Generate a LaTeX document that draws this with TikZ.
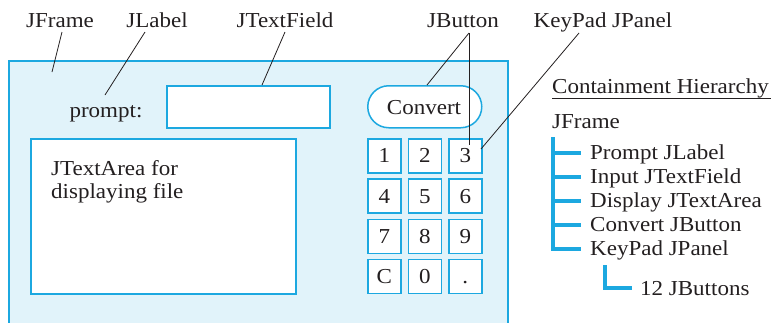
\documentclass[tikz,border=0pt]{standalone}
\usepackage{fontspec}
\setmainfont{Liberation Serif}[FakeStretch=1.08]
\usetikzlibrary{calc}
\definecolor{cyanline}{HTML}{1CA8E0}
\definecolor{framefill}{HTML}{E1F3FA}
\definecolor{txt}{HTML}{231F20}
\begin{document}
\begin{tikzpicture}[x=1pt,y=-1pt,
  every node/.style={inner sep=0pt,text=txt,font=\fontsize{21.3}{24}\selectfont},
  box/.style={draw=cyanline,line width=1.5pt,fill=white},
  key/.style={box,minimum width=33pt,minimum height=34pt},
  lead/.style={draw=txt,line width=0.8pt},
  tree/.style={draw=cyanline,line width=3.2pt}]
\useasboundingbox (0,0) rectangle (773,322);
% frame
\fill[framefill] (9,61) rectangle (508,324);
\draw[cyanline,line width=1.5pt] (9,324) -- (9,61) -- (508,61) -- (508,324);
\coordinate (frameIn) at (52,72);
% widgets
\node[anchor=base] (prompt) at (106,117) {prompt:};
\coordinate (promptTip) at (105,95);
\node[box,minimum width=163pt,minimum height=42pt,anchor=north west] (field) at (166,85) {};
\node[box,minimum width=265pt,minimum height=155pt,anchor=north west] (area) at (30,138) {};
\node[anchor=base west] (areaA) at (51,175) {JTextArea for};
\node[anchor=base west] (areaB) at (51,198) {displaying file};
\node[box,rounded corners=21pt,minimum width=114pt,minimum height=42pt,anchor=north west] (convert) at (367,85) {};
\node[anchor=base] (convertT) at (424,114) {Convert};
% keys
\foreach \lab/\c/\r [count=\i] in {1/0/0,2/1/0,3/2/0,4/0/1,5/1/1,6/2/1,7/0/2,8/1/2,9/2/2,C/0/3,0/1/3,./2/3}{
  \node[key,anchor=north west] (k\i) at (367+40.5*\c,138+40.3*\r) {};
  \node[anchor=base] (kt\i) at ($(k\i.center)+(0,7)$) {\lab};
}
% top labels
\node[anchor=base] (lFrame) at (60,27) {JFrame};
\node[anchor=base] (lLabel) at (157,27) {JLabel};
\node[anchor=base] (lField) at (285,27) {JTextField};
\node[anchor=base] (lButton) at (463,27) {JButton};
\node[anchor=base] (lPanel) at (603,27) {KeyPad JPanel};
\coordinate (cFrame) at (62,32);
\coordinate (cLabel) at (145,32);
\coordinate (cField) at (285,32);
\coordinate (cButton) at (469,33);
\coordinate (cPanel) at (579,33);
\coordinate (convTop) at (427,85);
\coordinate (key3in) at (469,145);
\coordinate (key3edge) at (481,149);
\coordinate (fieldTop) at (262,85);
\draw[lead] (cFrame) -- (frameIn);
\draw[lead] (cLabel) -- (promptTip);
\draw[lead] (cField) -- (fieldTop);
\draw[lead] (cButton) -- (convTop);
\draw[lead] (cButton) -- (key3in);
\draw[lead] (cPanel) -- (key3edge);
% hierarchy
\node[anchor=base west] (hTitle) at (552,93) {Containment Hierarchy};
\draw[txt,line width=0.9pt] (552,98.5) -- (771,98.5);
\node[anchor=base west] (hFrame) at (552,128) {JFrame};
\node[anchor=base west] (h1) at (590,159) {Prompt JLabel};
\node[anchor=base west] (h2) at (590,183) {Input JTextField};
\node[anchor=base west] (h3) at (590,207) {Display JTextArea};
\node[anchor=base west] (h4) at (590,231) {Convert JButton};
\node[anchor=base west] (h5) at (590,255) {KeyPad JPanel};
\node[anchor=base west] (h6) at (640,295) {12 JButtons};
\draw[tree] (553,137) -- (553,249) -- (581,249);
\foreach \y in {153,177,201,225}{\draw[tree] (553,\y) -- (581,\y);}
\draw[tree] (605,265) -- (605,288) -- (632,288);
\end{tikzpicture}
\end{document}
